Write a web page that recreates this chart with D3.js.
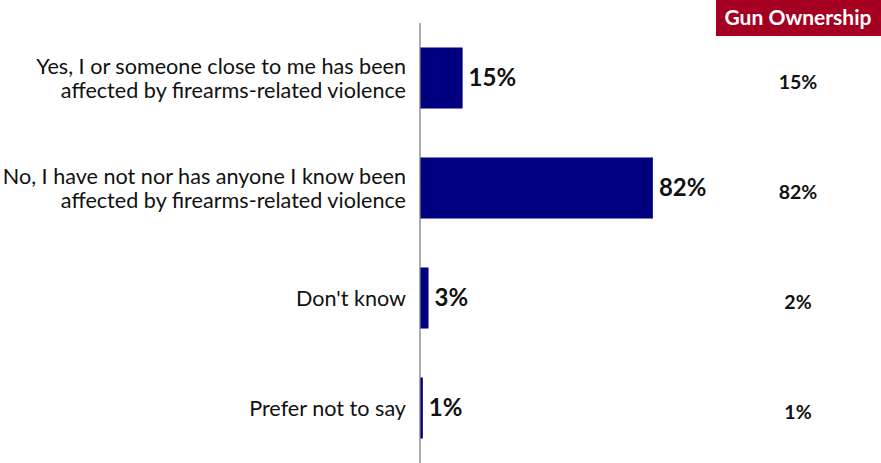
<!DOCTYPE html>
<html>
<head>
<meta charset="utf-8">
<script src="https://cdn.jsdelivr.net/npm/d3@7"></script>
<style>
  body { margin: 0; background: #fff; }
  text { font-family: Lato, "Open Sans", sans-serif; }
</style>
</head>
<body>
<svg id="chart" width="881" height="463"></svg>
<script>
// data
var categories = [
	["Yes, I or someone close to me has been", "affected by firearms-related violence"],
	["No, I have not nor has anyone I know been", "affected by firearms-related violence"],
	["Don't know"],
	["Prefer not to say"]
];
var values = [15, 82, 3, 1];
var gunOwnership = [15, 82, 2, 1];
var sideTitle = "Gun Ownership";

var svg = d3.select("#chart");
var axisX = 420;

var x = d3.scaleLinear()
	.domain([0, 100])
	.range([axisX, axisX + 284]);

var y = d3.scaleBand()
	.domain(d3.range(values.length))
	.range([23, 463])
	.paddingInner(0.445)
	.paddingOuter(0.2225);

// bars
svg.selectAll("rect.bar")
	.data(values)
	.enter().append("rect")
	.attr("class", "bar")
	.attr("x", x(0))
	.attr("y", function (d, i) { return y(i); })
	.attr("width", function (d) { return x(d) - x(0); })
	.attr("height", y.bandwidth())
	.style("fill", "#000080");

// vertical axis line
svg.append("line")
	.attr("x1", axisX)
	.attr("x2", axisX)
	.attr("y1", 23)
	.attr("y2", 463)
	.attr("stroke", "#7f7f7f")
	.attr("stroke-width", 1.3);

// value labels
svg.selectAll("text.value")
	.data(values)
	.enter().append("text")
	.attr("class", "value")
	.attr("x", function (d) { return x(d) + 6; })
	.attr("y", function (d, i) { return y(i) + y.bandwidth() / 2; })
	.attr("dy", "0.35em")
	.attr("font-size", 24)
	.attr("font-weight", "bold")
	.attr("fill", "#111")
	.text(function (d) { return d + "%"; });

// category labels
var lineH = 24;
svg.selectAll("text.cat")
	.data(categories)
	.enter().append("text")
	.attr("class", "cat")
	.attr("text-anchor", "end")
	.attr("font-size", 21.6)
	.attr("fill", "#111")
	.each(function (lines, i) {
		var cy = y(i) + y.bandwidth() / 2;
		var top = cy - (lines.length - 1) * lineH / 2;
		d3.select(this).selectAll("tspan")
			.data(lines)
			.enter().append("tspan")
			.attr("x", 406)
			.attr("y", function (l, j) { return top + j * lineH; })
			.attr("dy", "0.35em")
			.text(function (l) { return l; });
	});

// side column
var sideX = 798;
svg.append("rect")
	.attr("x", 716)
	.attr("y", 0)
	.attr("width", 165)
	.attr("height", 36)
	.attr("fill", "#a50021");

svg.append("text")
	.attr("x", sideX)
	.attr("y", 18)
	.attr("dy", "0.35em")
	.attr("text-anchor", "middle")
	.attr("font-size", 21)
	.attr("font-weight", "bold")
	.attr("fill", "#fff")
	.text(sideTitle);

svg.selectAll("text.side")
	.data(gunOwnership)
	.enter().append("text")
	.attr("class", "side")
	.attr("x", sideX)
	.attr("y", function (d, i) { return y(i) + y.bandwidth() / 2 + 4; })
	.attr("dy", "0.35em")
	.attr("text-anchor", "middle")
	.attr("font-size", 19.5)
	.attr("font-weight", "bold")
	.attr("fill", "#111")
	.text(function (d) { return d + "%"; });
</script>
</body>
</html>
